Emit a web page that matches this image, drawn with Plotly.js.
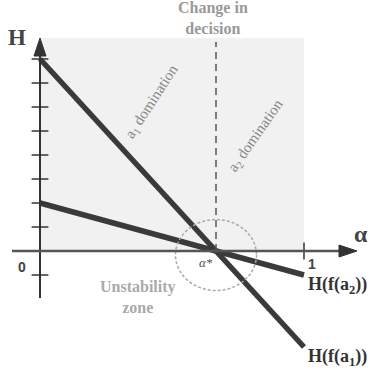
<!DOCTYPE html>
<html>
<head>
<meta charset="utf-8">
<script src="https://cdn.plot.ly/plotly-3.0.1.min.js"></script>
<style>
  html, body { margin: 0; padding: 0; background: #fff; }
  #chart { width: 377px; height: 374px; }
</style>
</head>
<body>
<div id="chart"></div>
<script>
// ================= Data =================
const alpha = [0, 1];
const hA1 = [8, -4];      // H(f(a1))
const hA2 = [2, -1];      // H(f(a2))
const alphaStar = 2 / 3;  // change in decision
const yTicks = [-1, 0, 1, 2, 3, 4, 5, 6, 7, 8];
const xTicks = [1];

// pixel helpers for text placement (canvas is 377x374, no margins)
const px = p => (p - 40) / 264;
const py = p => (251 - p) / 24;

const lineCol = '#3a3a3a';
const serif = '"Liberation Serif", "DejaVu Serif", serif';
const sans = '"Liberation Sans", Arial, sans-serif';

const traces = [
  {
    x: alpha, y: hA1, type: 'scatter', mode: 'lines',
    line: { color: lineCol, width: 5.5 }, hoverinfo: 'skip'
  },
  {
    x: alpha, y: hA2, type: 'scatter', mode: 'lines',
    line: { color: lineCol, width: 5.5 }, hoverinfo: 'skip'
  },
  {
    x: yTicks.map(() => 0), y: yTicks, type: 'scatter', mode: 'markers',
    marker: { symbol: 'line-ew', size: 12, line: { color: '#333', width: 1.5 } },
    hoverinfo: 'skip'
  },
  {
    x: xTicks, y: xTicks.map(() => 0), type: 'scatter', mode: 'markers',
    marker: { symbol: 'line-ns', size: 12, line: { color: '#333', width: 1.5 } },
    hoverinfo: 'skip'
  }
];

const shapes = [
  // shaded region
  { type: 'rect', layer: 'below', x0: 0, x1: 1, y0: 0, y1: py(38),
    fillcolor: '#f1f1f1', line: { width: 0 } },
  // change in decision
  { type: 'line', x0: alphaStar, x1: alphaStar, y0: 0, y1: py(42),
    line: { color: '#555', width: 1.5, dash: '7px,5px' } },
  // unstability zone
  { type: 'circle', x0: alphaStar - 40.5 / 264, x1: alphaStar + 40.5 / 264,
    y0: py(255) - 35.5 / 24, y1: py(255) + 35.5 / 24,
    line: { color: '#aaa', width: 1.5, dash: '3px,2px' } },
  // axes
  { type: 'line', x0: 0, x1: 0, y0: py(298), y1: py(50),
    line: { color: '#333', width: 2 } },
  { type: 'line', x0: px(12), x1: px(345), y0: 0, y1: 0,
    line: { color: '#555', width: 2.5 } },
  // arrow heads
  { type: 'path', path: `M ${px(34)},${py(56)} L ${px(40)},${py(38)} L ${px(46)},${py(56)} Z`,
    fillcolor: '#333', line: { color: '#333', width: 1 } },
  { type: 'path', path: `M ${px(339)},${py(245)} L ${px(357)},${py(251)} L ${px(339)},${py(257)} Z`,
    fillcolor: '#333', line: { color: '#333', width: 1 } }
];

const ann = (x, y, text, font, extra) => Object.assign(
  { x: px(x), y: py(y), text, font, showarrow: false, xanchor: 'center', yanchor: 'middle' },
  extra || {}
);

const annotations = [
  ann(17, 37, 'H', { family: serif, size: 23, color: '#444', weight: 'bold' }),
  ann(361, 234, 'α', { family: serif, size: 24, color: '#444', weight: 'bold' }),
  ann(22, 267, '0', { family: sans, size: 14, color: '#444', weight: 'bold' }),
  ann(312, 264, '1', { family: sans, size: 14, color: '#444', weight: 'bold' }),
  ann(206, 262, 'α*', { family: serif, size: 13, color: '#555', style: 'italic' }),
  ann(213, 18, 'Change in<br>decision', { family: serif, size: 16, color: '#999', weight: 'bold' }),
  ann(152, 102, 'a<sub>1</sub> domination', { family: serif, size: 15, color: '#888' }, { textangle: -57 }),
  ann(256, 136, 'a<sub>2</sub> domination', { family: serif, size: 15, color: '#888' }, { textangle: -55 }),
  ann(138, 297, 'Unstability<br>zone', { family: serif, size: 16, color: '#aaa', weight: 'bold' }),
  ann(306, 285, 'H(f(a<sub>2</sub>))', { family: serif, size: 18, color: '#333', weight: 'bold' }, { xanchor: 'left' }),
  ann(306, 357, 'H(f(a<sub>1</sub>))', { family: serif, size: 18, color: '#333', weight: 'bold' }, { xanchor: 'left' })
];

Plotly.newPlot('chart', traces, {
  width: 377, height: 374,
  margin: { l: 0, r: 0, t: 0, b: 0 },
  paper_bgcolor: '#fff', plot_bgcolor: '#fff',
  showlegend: false,
  xaxis: { range: [px(0), px(377)], visible: false, fixedrange: true },
  yaxis: { range: [py(374), py(0)], visible: false, fixedrange: true },
  shapes, annotations
}, { displayModeBar: false, staticPlot: true });
</script>
</body>
</html>
